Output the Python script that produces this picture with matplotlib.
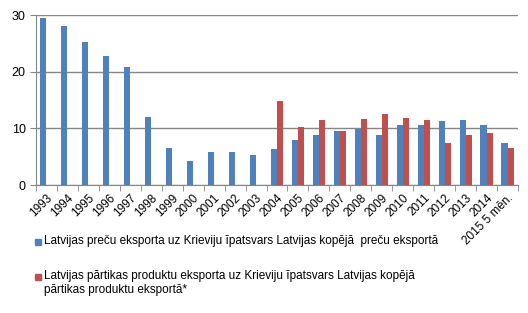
import matplotlib.pyplot as plt
import numpy as np
from matplotlib.patches import Rectangle

years = ["1993", "1994", "1995", "1996", "1997", "1998", "1999", "2000", "2001",
         "2002", "2003", "2004", "2005", "2006", "2007", "2008", "2009", "2010",
         "2011", "2012", "2013", "2014", "2015 5 mēn."]
goods = [29.5, 28.1, 25.3, 22.8, 20.9, 12.0, 6.5, 4.2, 5.8, 5.8, 5.3,
         6.4, 7.9, 8.8, 9.5, 9.9, 8.8, 10.6, 10.6, 11.3, 11.5, 10.6, 7.4]
food = [None] * 11 + [14.8, 10.2, 11.5, 9.5, 11.6, 12.5, 11.8, 11.5, 7.4, 8.8, 9.2, 6.5]

label_goods = "Latvijas preču eksporta uz Krieviju īpatsvars Latvijas kopējā  preču eksportā"
label_food = ("Latvijas pārtikas produktu eksporta uz Krieviju īpatsvars Latvijas kopējā\n"
              "pārtikas produktu eksportā*")

blue = "#4F81BD"
red = "#C0504D"

plt.rcParams['font.family'] = ['Liberation Sans', 'DejaVu Sans']
W, H = 528, 313
fig = plt.figure(figsize=(W / 100, H / 100), dpi=100)
ax = fig.add_axes([36 / W, 1 - 185 / H, 482 / W, 170 / H])

x = np.arange(len(years))
w = 0.29
ax.bar(x - w / 2, goods, width=w, color=blue, zorder=3)
fx = [i for i, v in enumerate(food) if v is not None]
fv = [v for v in food if v is not None]
ax.bar(np.array(fx) + w / 2, fv, width=w, color=red, zorder=3)

ax.set_xlim(-0.5, len(years) - 0.5)
ax.set_ylim(0, 30)
ax.set_yticks([0, 10, 20, 30])
ax.yaxis.grid(True, color="#868686", linewidth=1, zorder=0)
ax.set_xticks(x)
ax.set_xticklabels(years, rotation=45, ha="right", rotation_mode="anchor", fontsize=8.5)
ax.set_xticks(np.arange(-0.5, len(years)), minor=True)
ax.tick_params(axis="x", which="major", length=0, pad=5)
ax.tick_params(axis="x", which="minor", length=4, color="#868686", direction="out")
ax.tick_params(axis="y", length=4, color="#868686", labelsize=9)
for s in ["top", "right"]:
    ax.spines[s].set_visible(False)
ax.spines["left"].set_color("#868686")
ax.spines["bottom"].set_color("#868686")

# legend drawn by hand so the red marker sits on the first text line
for col, lab, yc in [(blue, label_goods, 242), (red, label_food, 277)]:
    fig.patches.append(Rectangle((35 / W, 1 - (yc + 3) / H), 6 / W, 6 / H,
                                 transform=fig.transFigure, color=col))
    fig.text(44 / W, 1 - (yc - 7) / H, lab, fontsize=8.5, va="top", ha="left",
             linespacing=1.2)

plt.savefig("out.png", dpi=100)
